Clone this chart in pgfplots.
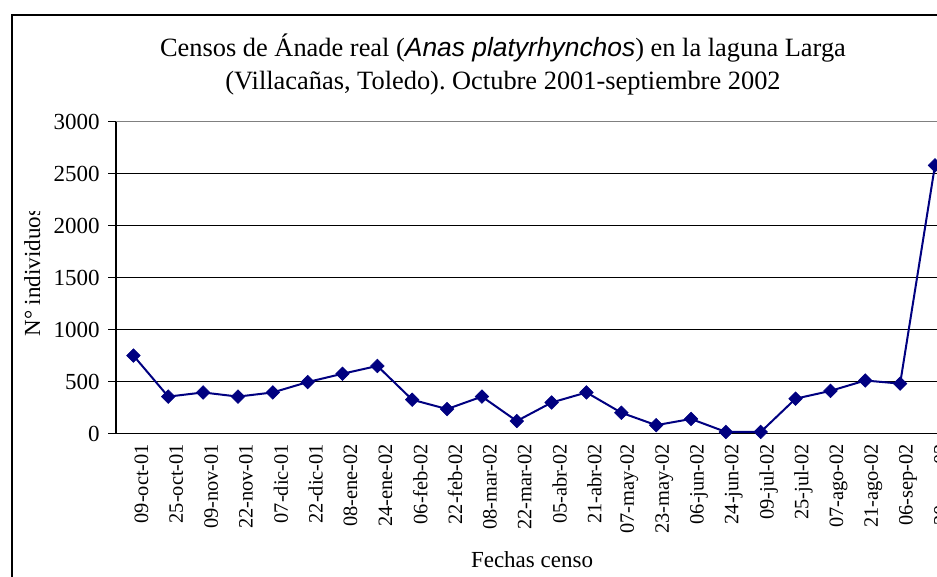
\documentclass[border=0pt]{standalone}
\usepackage{pgfplots}
\pgfplotsset{compat=1.18}
\usepackage{fontspec}
\setmainfont{Liberation Serif}
\newfontfamily\arialfont{Liberation Sans}
\definecolor{navyline}{RGB}{0,0,128}
\definecolor{topgray}{RGB}{128,128,128}
\frenchspacing
\begin{document}
\begin{tikzpicture}
\useasboundingbox (0,0) rectangle (468.5pt,-288.5pt);
\clip (0,0) rectangle (468.5pt,-288.5pt);
\draw[line width=0.8pt] (6pt,-7.5pt) rectangle (530pt,-340pt);
\node[anchor=base,inner sep=0pt,font=\fontsize{13.2}{15}\selectfont] at (251.5pt,-28.35pt)
  {Censos de Ánade real ({\arialfont\itshape Anas platyrhynchos}) en la laguna Larga};
\node[anchor=base,inner sep=0pt,font=\fontsize{13.2}{15}\selectfont] at (251.5pt,-45pt)
  {(Villacañas, Toledo). Octubre 2001-septiembre 2002};
\node[anchor=base,inner sep=0pt,font=\fontsize{11.5}{13}\selectfont] at (266pt,-283.5pt) {Fechas censo};
\begin{scope}
\clip (0,-106pt) rectangle (50pt,-200pt);
\node[anchor=base west,rotate=90,inner sep=0pt,font=\fontsize{11.5}{13}\selectfont] at (20pt,-168.5pt) {N° individuos};
\end{scope}
\begin{axis}[
  at={(58pt,-216.75pt)}, anchor=south west,
  scale only axis, width=418.2pt, height=155.9pt,
  xmin=0, xmax=24, ymin=0, ymax=3000,
  axis x line*=bottom, axis y line*=left,
  axis line style={line width=0.75pt, black},
  ytick={0,500,...,3000},
  ymajorgrids, major grid style={black, line width=0.6pt},
  tick align=outside,
  ytick style={line width=0.75pt, black},
  major tick length=4pt,
  xtick={0.5,1.5,...,23.5},
  xticklabels={09-oct-01,25-oct-01,09-nov-01,22-nov-01,07-dic-01,22-dic-01,08-ene-02,24-ene-02,06-feb-02,22-feb-02,08-mar-02,22-mar-02,05-abr-02,21-abr-02,07-may-02,23-may-02,06-jun-02,24-jun-02,09-jul-02,25-jul-02,07-ago-02,21-ago-02,06-sep-02,20-sep-02},
  xtick style={draw=none},
  minor xtick={0,1,...,24},
  minor tick length=3pt,
  minor x tick style={line width=0.75pt, black},
  xticklabel style={rotate=90, anchor=east, font=\fontsize{10.2}{11}\selectfont, inner sep=1pt, yshift=-4pt},
  yticklabel style={font=\fontsize{11.5}{13}\selectfont, inner sep=1pt, xshift=-3pt},
  /pgf/number format/assume math mode=true,
  scaled y ticks=false,
  yticklabel={\pgfmathprintnumber[fixed,1000 sep={}]{\tick}},
]
\addplot[color=navyline, line width=1pt, mark=square*, mark size=2.4pt,
  mark options={rotate=45, fill=navyline, draw=navyline, line width=0.3pt}]
  coordinates {
  (0.5,750) (1.5,355) (2.5,395) (3.5,355) (4.5,395) (5.5,495)
  (6.5,575) (7.5,650) (8.5,325) (9.5,235) (10.5,355) (11.5,120)
  (12.5,298) (13.5,395) (14.5,200) (15.5,80) (16.5,140) (17.5,15)
  (18.5,15) (19.5,335) (20.5,410) (21.5,510) (22.5,480) (23.5,2580)
  };
\draw[topgray, line width=0.75pt] (axis cs:0,3000) -- (axis cs:24,3000);
\end{axis}
\end{tikzpicture}
\end{document}
